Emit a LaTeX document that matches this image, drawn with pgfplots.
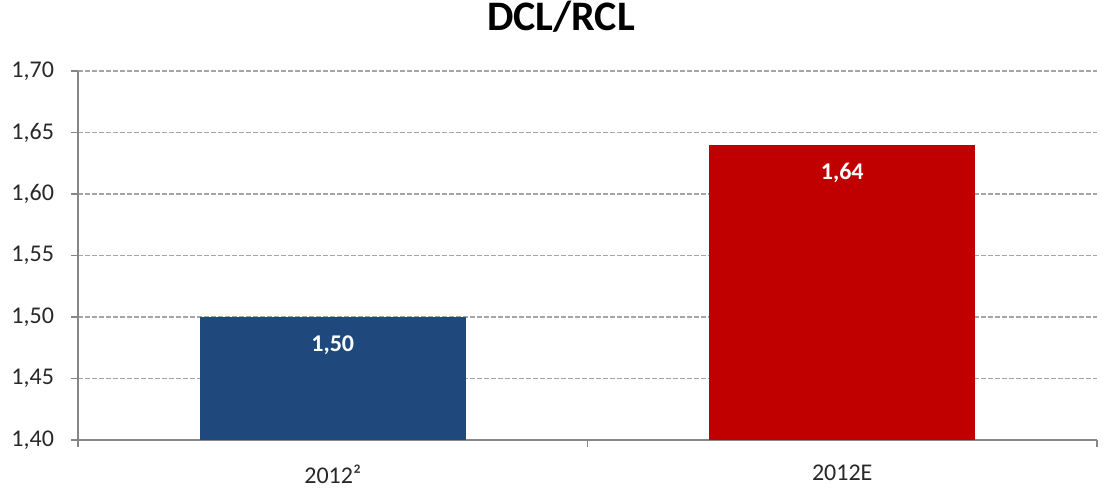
\documentclass[border=0pt]{standalone}
\usepackage{pgfplots}
\pgfplotsset{compat=1.18}
\usepackage{fontspec}
\setmainfont{Carlito}

\definecolor{barblue}{RGB}{31,73,125}
\definecolor{barred}{RGB}{192,0,0}
\definecolor{gridgray}{RGB}{165,165,165}
\definecolor{axisgray}{RGB}{134,134,134}
\definecolor{labelgray}{RGB}{40,40,40}

\begin{document}
\begin{tikzpicture}
\fontsize{11.5}{13.5}\selectfont
\begin{axis}[
  scale only axis,
  width=509.5pt, height=184.5pt,
  xmin=-0.5, xmax=1.5,
  ymin=1.4, ymax=1.7,
  ytick={1.40,1.45,...,1.71},
  xtick={0,1},
  xticklabels={2012², 2012E},
  minor xtick={-0.5,0.5,1.5},
  major x tick style={draw=none},
  axis lines=left,
  axis line style={axisgray, line width=0.8pt, -},
  every tick/.style={axisgray, line width=0.8pt},
  tick align=outside,
  major tick length=3.5pt,
  minor tick length=3.5pt,
  ymajorgrids,
  grid style={gridgray, dash pattern=on 2.5pt off 1pt, line width=0.6pt},
  /pgf/number format/.cd, fixed, fixed zerofill, precision=2, use comma, assume math mode=true,
  /pgfplots/.cd,
  ticklabel style={font=\fontsize{12}{14}\selectfont, text=labelgray},
  yticklabel style={xshift=-4.5pt},
  xticklabel style={yshift=-5pt},
  nodes near coords,
  point meta=y,
  nodes near coords style={anchor=center, yshift=-14pt, text=white,
    font=\fontsize{12}{14}\selectfont\bfseries},
]
\addplot[ybar, bar shift=0pt, bar width=0.522, fill=barblue, draw=none]
  coordinates {(0,1.50)};
\addplot[ybar, bar shift=0pt, bar width=0.522, fill=barred, draw=none]
  coordinates {(1,1.64)};
\end{axis}
\node[anchor=base, font=\fontsize{21}{25}\selectfont\bfseries]
  at ([xshift=241.5pt, yshift=20pt]current axis.north west) {DCL/RCL};
\path (current axis.south west) ++(-39pt,-27.5pt) coordinate (bbsw);
\path (current axis.north east) ++(3pt,35.5pt) coordinate (bbne);
\pgfresetboundingbox
\useasboundingbox (bbsw) rectangle (bbne);
\end{tikzpicture}
\end{document}
